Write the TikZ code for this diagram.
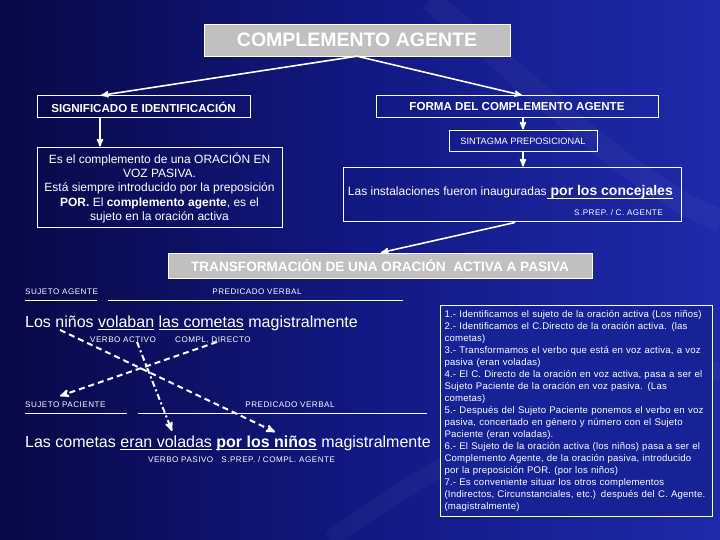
\documentclass[tikz,border=0pt]{standalone}
\usepackage{fontspec}
\setmainfont{Liberation Sans}
\usetikzlibrary{arrows,positioning}
\definecolor{bgdark}{RGB}{8,8,70}
\definecolor{bgmid}{RGB}{18,24,130}
\definecolor{bglight}{RGB}{30,42,170}
\definecolor{boxgray}{RGB}{192,192,192}
\definecolor{notefill}{RGB}{22,34,150}
\newcommand{\fsz}[2][1.2]{\fontsize{#2}{#1\dimexpr#2pt\relax}\selectfont}
\newcommand{\ulw}[1]{\setbox0\hbox{#1}\leavevmode\rlap{\vrule height -1.6pt depth 2.7pt width \wd0}\box0\relax}
\newcommand{\tagfont}{\fontsize{8.1}{9}\selectfont\addfontfeature{LetterSpace=6}}
\tikzstyle{post}=[->,>=stealth',line width=1.6pt,white,shorten >=1pt]
\tikzstyle{dashpost}=[->,>=stealth',line width=2pt,white,dash pattern=on 6pt off 4pt]
\tikzstyle{graybox}=[fill=boxgray,draw=white,text=white,inner sep=0pt]
\tikzstyle{linebox}=[draw=white,line width=1pt,text=white,inner sep=0pt]
\tikzstyle{tag}=[text=white,inner sep=0pt,anchor=base west,font=\tagfont]
\begin{document}
\begin{tikzpicture}[x=1pt,y=-1pt]
  \useasboundingbox (0,0) rectangle (720,540);
  \shade[left color=bgdark,right color=bglight,middle color=bgmid] (0,0) rectangle (720,540);
  \draw[white,opacity=0.035,line width=22pt] (430,0) .. controls (560,110) and (640,190) .. (720,220);
  \draw[white,opacity=0.03,line width=18pt] (330,540) .. controls (480,430) and (600,390) .. (720,370);

  % cabecera
  \node (titulo) [graybox,minimum width=306,minimum height=32,font=\bfseries\fsz{19.5}] at (357,40) {COMPLEMENTO AGENTE};
  \node (signif) [linebox,minimum width=213,minimum height=22,font=\bfseries\fsz{11.6}] at (143.5,107) {SIGNIFICADO E IDENTIFICACIÓN};
  \node (forma) [linebox,minimum width=282,minimum height=22,font=\bfseries\fsz{11.6}] at (517,107) {FORMA DEL COMPLEMENTO AGENTE};
  \node (defin) [linebox,minimum width=245,minimum height=80,align=center,font=\fontsize{12}{14.3}\selectfont]
     at (159.5,188) {Es el complemento de una ORACIÓN EN\\VOZ PASIVA.\\Está siempre introducido por la preposición\\\textbf{POR.} El \textbf{complemento agente}, es el\\sujeto en la oración activa};
  \node (sintag) [linebox,minimum width=148,minimum height=21,font=\fsz{9.2}] at (523,141.5) {SINTAGMA PREPOSICIONAL};
  \node (ejemplo) [linebox,minimum width=338,minimum height=54] at (512,195) {};
  \node [text=white,inner sep=0pt,anchor=base east,font=\fsz{12}] at (673,196)
     {Las instalaciones fueron inauguradas\textbf{\fsz{14}\ulw{ por los concejales}}};
  \node [tag,anchor=base east] at (663,215) {S.PREP. / C. AGENTE};
  \node (transf) [graybox,minimum width=424,minimum height=25,font=\bfseries\fsz{13.6}] at (380,265.5) {TRANSFORMACIÓN DE UNA ORACIÓN \ ACTIVA A PASIVA};

  \draw[post] (titulo.south) -- ([xshift=-43.5pt]signif.north);
  \draw[post] (titulo.south) -- ([xshift=6pt]forma.north);
  \draw[post] ([xshift=-43.5pt]signif.south) -- ([xshift=-43.5pt]signif.south |- defin.north);
  \draw[post] ([xshift=6pt]forma.south) -- (sintag.north);
  \draw[post] (sintag.south) -- (sintag.south |- ejemplo.north);
  \draw[post] ([xshift=3pt]ejemplo.south) -- (transf.north);

  % oracion activa
  \node (sujag) [tag] at (25,294) {SUJETO AGENTE};
  \node (pred1) [tag,anchor=base] at (257,294) {PREDICADO VERBAL};
  \draw[white,line width=1pt] (25,300) -- (97,300) (108,300) -- (403,300);
  \node (activa) [text=white,inner sep=0pt,anchor=base west,font=\fsz{16}] at (25,327)
     {Los niños \ulw{volaban} \ulw{las cometas} magistralmente};
  \node (vact) [tag] at (90,342) {VERBO ACTIVO};
  \node (cdir) [tag] at (175,342) {COMPL. DIRECTO};

  % oracion pasiva
  \node (sujpac) [tag] at (25,407) {SUJETO PACIENTE};
  \node (pred2) [tag,anchor=base] at (290,407) {PREDICADO VERBAL};
  \draw[white,line width=1pt] (25,413) -- (127,413) (138,413) -- (427,413);
  \node (pasiva) [text=white,inner sep=0pt,anchor=base west,font=\fsz{16}] at (25,447)
     {Las cometas \ulw{eran voladas} \textbf{\ulw{por los niños}} magistralmente};
  \node (vpas) [tag] at (148,462) {VERBO PASIVO \ \ S.PREP. / COMPL. AGENTE};

  \coordinate (ninos) at (60,330);
  \coordinate (porninos) at (275,432);
  \coordinate (eranvol) at (172,431);
  \coordinate (cdirfin) at (217,342);
  \coordinate (sujpacfin) at (60,396);
  \coordinate (vactfin) at (137,342);
  \draw[dashpost] (ninos) -- (porninos);
  \draw[dashpost] (cdirfin) -- (sujpacfin);
  \draw[dashpost,dash pattern=on 6pt off 3pt on 2pt off 3pt] (vactfin) -- (eranvol);

  % pasos
  \node (pasos) [draw=white,line width=1.2pt,fill=notefill,text=white,anchor=north west,minimum width=270,minimum height=211,
     inner sep=4pt,align=left,font=\fontsize{9.6}{12}\selectfont\addfontfeature{LetterSpace=2},text width=264] at (440,305)
     {1.- Identificamos el sujeto de la oración activa (Los niños)\\
     2.- Identificamos el C.Directo de la oración activa. (las\\
     cometas)\\
     3.- Transformamos el verbo que está en voz activa, a voz\\
     pasiva (eran voladas)\\
     4.- El C. Directo de la oración en voz activa, pasa a ser el\\
     Sujeto Paciente de la oración en voz pasiva. (Las\\
     cometas)\\
     5.- Después del Sujeto Paciente ponemos el verbo en voz\\
     pasiva, concertado en género y número con el Sujeto\\
     Paciente (eran voladas).\\
     6.- El Sujeto de la oración activa (los niños) pasa a ser el\\
     Complemento Agente, de la oración pasiva, introducido\\
     por la preposición POR. (por los niños)\\
     7.- Es conveniente situar los otros complementos\\
     (Indirectos, Circunstanciales, etc.) después del C. Agente.\\
     (magistralmente)};
\end{tikzpicture}
\end{document}
